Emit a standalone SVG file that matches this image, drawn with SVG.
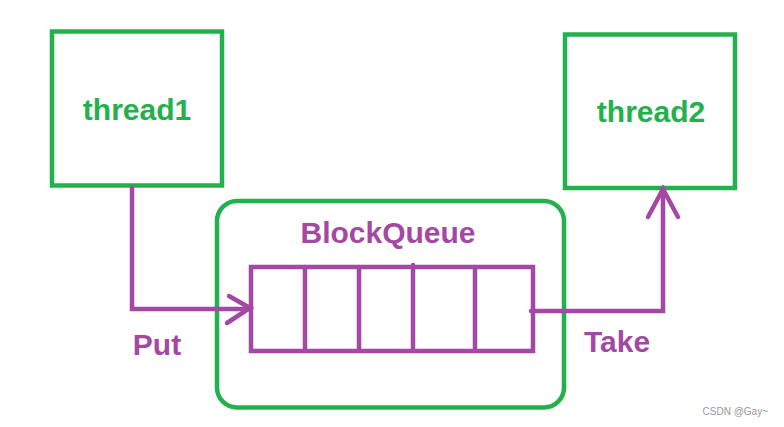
<svg xmlns="http://www.w3.org/2000/svg" width="784" height="427" viewBox="0 0 784 427">
<style>
.g{fill:none;stroke:#22B14C;stroke-width:4.5}
.p{fill:none;stroke:#A349A4;stroke-width:4.5;stroke-linecap:round;stroke-linejoin:miter}
.tg{font-family:"Liberation Sans",Arial,sans-serif;font-weight:bold;font-size:30px;fill:#22B14C;text-anchor:middle}
.tp{font-family:"Liberation Sans",Arial,sans-serif;font-weight:bold;font-size:30px;fill:#A349A4;text-anchor:middle}
</style>
<rect width="784" height="427" fill="#fff"/>
<g id="thread1">
<rect class="g" x="52" y="31.5" width="170" height="154"/>
<text class="tg" x="137" y="120">thread1</text>
</g>
<g id="thread2">
<rect class="g" x="565" y="34.5" width="170" height="153.5"/>
<text class="tg" x="651" y="122">thread2</text>
</g>
<g id="blockqueue">
<rect class="g" x="217" y="201" width="347" height="206.5" rx="20"/>
<text class="tp" x="388" y="243">BlockQueue</text>
<rect class="p" x="251" y="267" width="282" height="84" style="stroke-linecap:butt"/>
<line class="p" x1="305" y1="267" x2="305" y2="351"/>
<line class="p" x1="359" y1="267" x2="359" y2="351"/>
<line class="p" x1="413" y1="265" x2="413" y2="351"/>
<line class="p" x1="475" y1="267" x2="475" y2="351"/>
</g>
<g id="connectors">
<polyline class="p" points="132,188 132,309 251,309"/>
<polyline class="p" points="229,296 250,308 227,323"/>
<polyline class="p" points="531,311 663,311 663,188"/>
<polyline class="p" points="648,217 663,189 678,217"/>
</g>
<g id="labels">
<text class="tp" x="157" y="355">Put</text>
<text class="tp" x="617" y="352">Take</text>
</g>
<text x="768" y="415" font-family="Liberation Sans,Arial,sans-serif" font-size="10" fill="#999" text-anchor="end">CSDN @Gay~</text>
</svg>
